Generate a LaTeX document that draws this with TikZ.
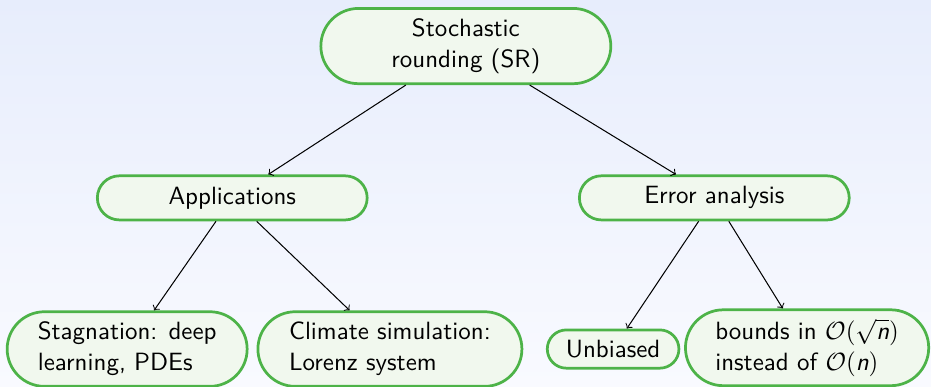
\documentclass[tikz,border=0pt]{standalone}
\usepackage{amsmath}
\usepackage{tikz}
\usetikzlibrary{arrows,shapes.misc}
\definecolor{srgreen}{RGB}{77,179,72}
\definecolor{srfill}{RGB}{241,248,238}
\definecolor{bgtop}{RGB}{231,237,252}
\definecolor{bgbot}{RGB}{249,250,255}
\tikzstyle{topic}=[rounded rectangle,draw=srgreen,fill=srfill,line width=1.2pt,inner sep=3pt,font=\fontsize{10.95}{13.6}\selectfont\sffamily]
\tikzstyle{line} = [draw, ->, line width=0.45pt]

\begin{document}
\begin{tikzpicture}
  % background
  \shade[top color=bgtop,bottom color=bgbot] (0,0) rectangle (14.35,-5.95);
  \useasboundingbox (0,0) rectangle (14.35,-5.95);

  \node[topic,align=center,minimum width=4.68cm,minimum height=1.16cm] (SR) at (7.18,-0.71) {Stochastic\\rounding (SR)};
  \node[topic,minimum width=4.37cm,minimum height=0.68cm] (APP) at (3.58,-3.05) {Applications};
  \node[topic,minimum width=4.37cm,minimum height=0.68cm] (ERR) at (11.01,-3.05) {Error analysis};
  % leaves
  \node[topic,align=left,minimum width=3.91cm,minimum height=1.15cm] (STAG) at (1.96,-5.38) {Stagnation: deep\\learning, PDEs};
  \node[topic,align=left,minimum width=4.28cm,minimum height=1.15cm] (CLIM) at (6.01,-5.38) {Climate simulation:\\Lorenz system};
  \node[topic,minimum width=2.24cm,minimum height=0.59cm] (UNB) at (9.45,-5.38) {Unbiased};
  \node[topic,align=left,minimum width=3.96cm,minimum height=1.17cm] (BND) at (12.44,-5.36) {bounds in $\mathcal{O}(\sqrt{\text{\itshape n}})$\\instead of $\mathcal{O}(\text{\itshape n})$};

  % arrows
  \path [line] (SR) -- (APP);
  \path [line] (SR) -- (ERR);
  \path [line] (APP) -- (STAG);
  \path [line] (APP) -- (CLIM);
  \path [line] (ERR) -- (UNB);
  \path [line] (ERR) -- (BND);
\end{tikzpicture}
\end{document}
